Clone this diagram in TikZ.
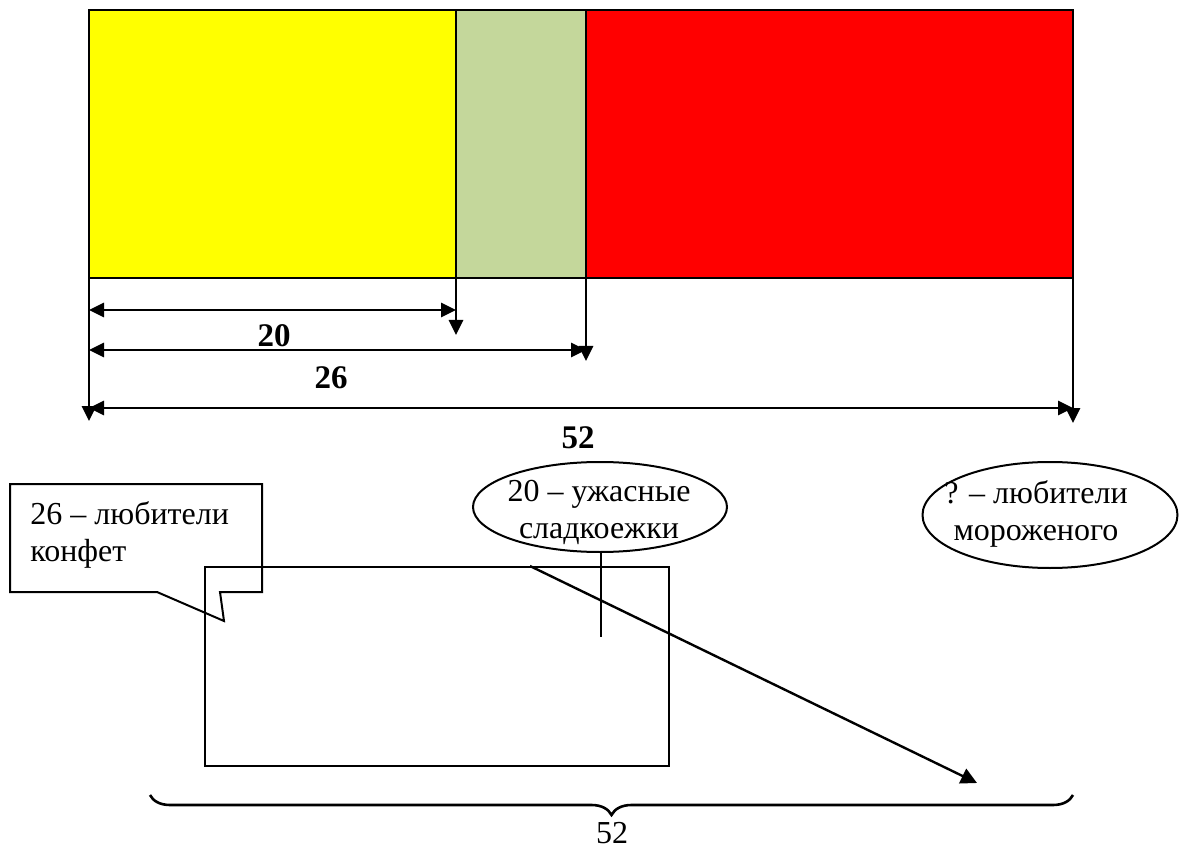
\documentclass[tikz,border=0pt]{standalone}
\usepackage{fontspec}
\setmainfont{Liberation Serif}
\usetikzlibrary{arrows.meta,decorations.pathreplacing,shapes.geometric}
\definecolor{barYellow}{RGB}{255,255,0}
\definecolor{barGreen}{RGB}{196,215,155}
\definecolor{barRed}{RGB}{255,0,0}
\begin{document}
\begin{tikzpicture}[x=0.5pt,y=-0.5pt,
  seg/.style={draw=black,line width=0.8pt},
  dimline/.style={line width=1.4pt},
  tipdown/.style={-{Triangle[length=7.5pt,width=7pt]}},
  twoway/.style={{Triangle[length=7.5pt,width=7pt]}-{Triangle[length=7.5pt,width=7pt]}},
  numlbl/.style={font=\bfseries\fontsize{16.5}{18}\selectfont,inner sep=0pt},
  txt/.style={font=\fontsize{16}{18.5}\selectfont,inner sep=0pt},
  outline/.style={draw=black,line width=1pt}]
\useasboundingbox (0,0) rectangle (1184,850);

% the bar: three coloured parts
\coordinate (p0) at (89,10);
\coordinate (p1) at (456,10);
\coordinate (p2) at (586,10);
\coordinate (p3) at (1073,10);
\coordinate (q0) at (89,278);
\coordinate (q1) at (456,278);
\coordinate (q2) at (586,278);
\coordinate (q3) at (1073,278);
\filldraw[seg,fill=barYellow] (p0) rectangle (q1);
\filldraw[seg,fill=barGreen] (p1) rectangle (q2);
\filldraw[seg,fill=barRed] (p2) rectangle (q3);

% extension lines below the bar
\coordinate (d0) at (89,421);
\coordinate (d1) at (456,335);
\coordinate (d2) at (586,361);
\coordinate (d3) at (1073,423);
\draw[dimline,tipdown] (q0) -- (d0);
\draw[dimline,tipdown] (q1) -- (d1);
\draw[dimline,tipdown] (q2) -- (d2);
\draw[dimline,tipdown] (q3) -- (d3);

% dimension arrows
\coordinate (h1a) at (89,310);
\coordinate (h1b) at (456,310);
\coordinate (h2a) at (89,350);
\coordinate (h2b) at (586,350);
\coordinate (h3a) at (89,408);
\coordinate (h3b) at (1073,408);
\draw[dimline,twoway] (h1a) -- (h1b);
\draw[dimline,twoway] (h2a) -- (h2b);
\draw[dimline,twoway] (h3a) -- (h3b);
\node[numlbl] (n20) at (274,336) {20};
\node[numlbl] (n26) at (331,378) {26};
\node[numlbl] (n52) at (578,438) {52};

% speech callout
\draw[outline] (10,484) -- (262,484) -- (262,592) -- (220,592) -- (224,621)
  -- (157,592) -- (10,592) -- cycle;
\node[txt,align=left,anchor=base west] (call) at (30,561) {26 – любители\\конфет};

% frame
\node[outline,minimum width=232pt,minimum height=99.5pt,anchor=north west,inner sep=0pt]
  (frame) at (204,566) {};

% ovals
\node[outline,ellipse,minimum width=127pt,minimum height=45pt,inner sep=0pt]
  (e1) at (600,507) {};
\node[txt,align=center,anchor=base] (t1) at (599,538) {20 – ужасные\\сладкоежки};
\node[outline,ellipse,minimum width=127.5pt,minimum height=53pt,inner sep=0pt]
  (e2) at (1050,515) {};
\node[txt,align=center,anchor=base] (t2) at (1036,540) {? – любители\\мороженого};

% stem under the first oval
\coordinate (stem) at (601,637);
\draw[outline] (stem |- e1.south) -- (stem);

% long arrow
\coordinate (a0) at (530,566);
\coordinate (a1) at (977,783);
\draw[outline,line width=1.2pt,-{Triangle[length=8pt,width=8pt]}] (a0) -- (a1);

% brace with total
\coordinate (br0) at (150,795);
\coordinate (br1) at (1073,795);
\draw[line width=1.3pt,decorate,decoration={brace,mirror,amplitude=10pt}] (br0) -- (br1);
\node[txt] (b52) at (612,833) {52};
\end{tikzpicture}
\end{document}
